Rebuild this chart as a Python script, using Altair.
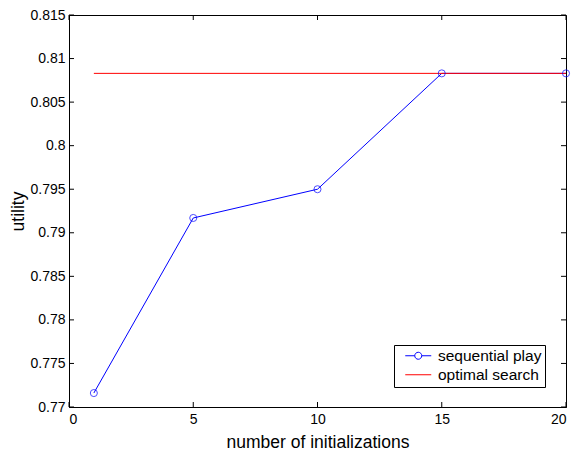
import altair as alt
import pandas as pd

# ---- data ----
init_counts = [1, 5, 10, 15, 20]
sequential_play = [0.7716, 0.7917, 0.7950, 0.8083, 0.8083]
optimal_x = [1, 20]
optimal_search = [0.8083, 0.8083]
x_ticks = [0, 5, 10, 15, 20]
y_ticks = [0.77, 0.775, 0.78, 0.785, 0.79, 0.795, 0.80, 0.805, 0.81, 0.815]
series_names = ["sequential play", "optimal search"]
series_colors = ["#0000ff", "#ff0000"]

W, H = 497, 392
FONT = "Liberation Sans"

lines_df = pd.DataFrame(
    {"x": init_counts + optimal_x,
     "y": sequential_play + optimal_search,
     "series": [series_names[0]] * len(init_counts) + [series_names[1]] * len(optimal_x),
     "order": list(range(len(init_counts))) + list(range(len(optimal_x)))}
)
points_df = pd.DataFrame({"x": init_counts, "y": sequential_play})
legend_df = pd.DataFrame({"series": series_names})
xt_df = pd.DataFrame({"t": x_ticks})
yt_df = pd.DataFrame({"t": y_ticks})

xscale = alt.Scale(domain=[0, 20], nice=False, zero=False)
yscale = alt.Scale(domain=[0.77, 0.815], nice=False, zero=False)
cscale = alt.Scale(domain=series_names, range=series_colors)

seq_path = ("M-2.6,0L-0.7,0M0.7,0L2.6,0"
            "M-0.7,0A0.7,0.7,0,1,1,0.7,0A0.7,0.7,0,1,1,-0.7,0")
opt_path = "M-2.6,0L2.6,0"
sscale = alt.Scale(domain=series_names, range=[seq_path, opt_path])

legend = alt.Legend(
    title=None, orient="none", legendX=325, legendY=330,
    strokeColor="black", fillColor="white", padding=3,
    labelFont=FONT, labelFontSize=15.5, labelColor="black",
    labelOffset=12, rowPadding=2, symbolSize=100, symbolStrokeWidth=1,
    symbolOffset=13.5, symbolOpacity=1, symbolFillColor="transparent",
    labelExpr="datum.label + '   '",
)

lines = alt.Chart(lines_df).mark_line(strokeWidth=1).encode(
    x=alt.X("x:Q", scale=xscale,
            axis=alt.Axis(values=x_ticks, ticks=False, grid=False,
                          title="number of initializations",
                          labelPadding=5, titleX=248.5, titleY=40,
                          titleBaseline="alphabetic", titleAlign="center")),
    y=alt.Y("y:Q", scale=yscale,
            axis=alt.Axis(values=y_ticks, ticks=False, grid=False,
                          format=".3~f", title="utility",
                          labelPadding=4, titleX=-46, titleY=196,
                          titleAngle=270, titleBaseline="alphabetic",
                          titleAlign="center")),
    color=alt.Color("series:N", scale=cscale, legend=legend),
    order="order:Q",
)

points = alt.Chart(points_df).mark_point(
    shape="circle", filled=False, size=50, strokeWidth=1, color="#0000ff"
).encode(x=alt.X("x:Q", scale=xscale), y=alt.Y("y:Q", scale=yscale))

# legend-only layer: invisible marks, gives the legend its line+circle symbols
legend_layer = alt.Chart(legend_df).mark_point(
    filled=False, size=100, strokeWidth=1, opacity=0
).encode(
    color=alt.Color("series:N", scale=cscale, legend=legend),
    shape=alt.Shape("series:N", scale=sscale, legend=legend),
)

tick_len = 5
bottom_ticks = alt.Chart(xt_df).mark_rule(color="black", strokeWidth=1).encode(
    x=alt.X("t:Q", scale=xscale), y=alt.value(H), y2=alt.value(H - tick_len))
top_ticks = alt.Chart(xt_df).mark_rule(color="black", strokeWidth=1).encode(
    x=alt.X("t:Q", scale=xscale), y=alt.value(0), y2=alt.value(tick_len))
left_ticks = alt.Chart(yt_df).mark_rule(color="black", strokeWidth=1).encode(
    y=alt.Y("t:Q", scale=yscale), x=alt.value(0), x2=alt.value(tick_len))
right_ticks = alt.Chart(yt_df).mark_rule(color="black", strokeWidth=1).encode(
    y=alt.Y("t:Q", scale=yscale), x=alt.value(W), x2=alt.value(W - tick_len))

chart = alt.layer(
    lines, points, legend_layer, bottom_ticks, top_ticks, left_ticks, right_ticks
).properties(
    width=W, height=H,
    autosize=alt.AutoSizeParams(type="none"),
    padding={"left": 69, "top": 15, "right": 7, "bottom": 43},
    background="white",
).configure_view(
    stroke="black", strokeWidth=1
).configure_axis(
    labelFont=FONT, labelFontSize=14, labelColor="black",
    titleFont=FONT, titleFontSize=17.5, titleFontWeight="normal", titleColor="black",
    domainColor="black", domainWidth=1,
)

chart.save("out.html", embed_options={"renderer": "svg", "actions": False})
